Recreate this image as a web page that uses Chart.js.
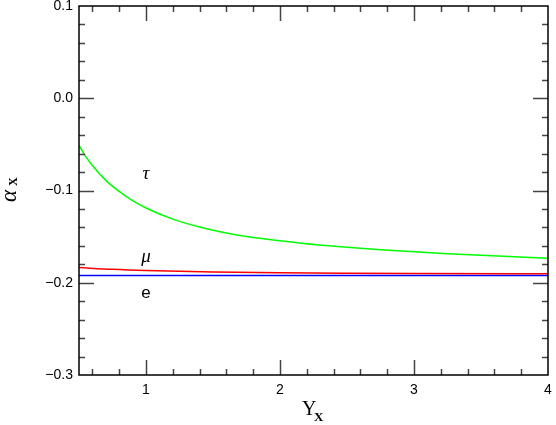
<!DOCTYPE html>
<html>
<head>
<meta charset="utf-8">
<script src="https://cdn.jsdelivr.net/npm/chart.js@4/dist/chart.umd.min.js"></script>
<style>
html,body{margin:0;padding:0;background:#fff}
</style>
</head>
<body>
<canvas id="chart" width="556" height="425"></canvas>
<script>
// values
const tauX = [0.5, 0.55, 0.6, 0.7, 0.8, 0.9, 1.0, 1.2, 1.4, 1.6, 1.8, 2.0, 2.25, 2.5, 2.75, 3.0, 3.25, 3.5, 3.75, 4.0];
const tauY = [-0.051, -0.063, -0.073, -0.089, -0.101, -0.111, -0.119, -0.131, -0.1395, -0.146, -0.151, -0.1545, -0.1585, -0.1615, -0.1642, -0.1665, -0.1685, -0.1703, -0.1719, -0.1734];
const muX = [0.5, 0.75, 1.0, 1.5, 2.0, 2.5, 3.0, 4.0];
const muY = [-0.1835, -0.1855, -0.1868, -0.1883, -0.1892, -0.1897, -0.19, -0.1902];
const eX = [0.5, 4.0];
const eY = [-0.1922, -0.1922];

const xTicks = [1, 2, 3, 4];
const yTicks = [-0.3, -0.2, -0.1, 0.0, 0.1];

const curveNames = ['τ', 'μ', 'e'];
const nameX = [1.0, 1.0, 1.0];
const nameY = [-0.0824, -0.172, -0.211];

function pts(xs, ys){
	return xs.map((x, i) => ({x: x, y: ys[i]}));
}

Chart.defaults.font.family = 'Arial, "Liberation Sans", sans-serif';
Chart.defaults.font.size = 14;
Chart.defaults.color = '#000';

const frame = {
	id: 'frame',
	afterDraw(chart){
		const ctx = chart.ctx;
		const a = chart.chartArea;
		const xs = chart.scales.x, ys = chart.scales.y;
		ctx.save();

		// inward ticks on all four sides
		ctx.strokeStyle = '#444';
		ctx.lineWidth = 1.5;
		ctx.beginPath();
		for (let k = 3; k < 20; k++) {
			const v = k * 0.2;
			const major = k % 5 === 0;
			const len = major ? 15 : 6;
			const px = Math.round(xs.getPixelForValue(v)) + 0.5;
			ctx.moveTo(px, a.bottom); ctx.lineTo(px, a.bottom - len);
			ctx.moveTo(px, a.top); ctx.lineTo(px, a.top + len);
		}
		for (let k = -14; k <= 4; k++) {
			const v = k * 0.02;
			const major = k % 5 === 0;
			const len = major ? 15 : 6;
			const py = Math.round(ys.getPixelForValue(v)) + 0.5;
			ctx.moveTo(a.left, py); ctx.lineTo(a.left + len, py);
			ctx.moveTo(a.right, py); ctx.lineTo(a.right - len, py);
		}
		ctx.stroke();

		// box
		ctx.strokeStyle = '#000';
		ctx.lineWidth = 1.5;
		ctx.strokeRect(a.left, a.top, a.right - a.left, a.bottom - a.top);

		// curve names
		ctx.fillStyle = '#000';
		ctx.textAlign = 'center';
		ctx.textBaseline = 'middle';
		curveNames.forEach((n, i) => {
			ctx.font = n === 'e' ? '17px "Liberation Sans"' : 'italic 19px "Liberation Serif"';
			ctx.fillText(n, xs.getPixelForValue(nameX[i]), ys.getPixelForValue(nameY[i]));
		});

		// x title  Y_X
		ctx.textAlign = 'left';
		ctx.textBaseline = 'alphabetic';
		ctx.font = '20px "Liberation Serif"';
		ctx.fillText('Y', 302, 415);
		ctx.font = 'bold 13px "Liberation Serif"';
		ctx.fillText('X', 314, 421);

		// y title  alpha_X
		ctx.translate(16, 190);
		ctx.rotate(-Math.PI / 2);
		ctx.font = 'italic 23px "Liberation Serif"';
		ctx.fillText('α', -12, 0);
		ctx.font = 'bold 12px "Liberation Serif"';
		ctx.fillText('X', 4, 1);
		ctx.restore();
	}
};

new Chart(document.getElementById('chart'), {
	type: 'scatter',
	data: {
		datasets: [
			{label: 'tau', data: pts(tauX, tauY), borderColor: '#00ff00', cubicInterpolationMode: 'monotone'},
			{label: 'mu', data: pts(muX, muY), borderColor: '#ff0000', cubicInterpolationMode: 'monotone'},
			{label: 'e', data: pts(eX, eY), borderColor: '#0000ff'}
		].map(d => Object.assign(d, {showLine: true, pointRadius: 0, borderWidth: 1.5, fill: false}))
	},
	options: {
		responsive: false,
		animation: false,
		layout: {padding: {top: 6, right: 8, left: 0, bottom: 0}},
		plugins: {legend: {display: false}, tooltip: {enabled: false}},
		scales: {
			x: {
				type: 'linear', min: 0.5, max: 4,
				afterBuildTicks: s => { s.ticks = xTicks.map(v => ({value: v})); },
				afterFit: s => { s.height = 50; s.paddingLeft = 0; s.paddingRight = 0; },
				grid: {display: false, drawTicks: false},
				border: {display: false},
				ticks: {color: '#000', padding: 7, font: {size: 14}, maxRotation: 0}
			},
			y: {
				min: -0.3, max: 0.1,
				afterBuildTicks: s => { s.ticks = yTicks.map(v => ({value: v})); },
				afterFit: s => { s.width = 79; s.paddingTop = 0; s.paddingBottom = 0; },
				grid: {display: false, drawTicks: false},
				border: {display: false},
				ticks: {
					color: '#000', padding: 6, font: {size: 14},
					callback: v => (Math.abs(v) < 1e-9 ? 0 : v).toFixed(1).replace('-', '\u2212')
				}
			}
		}
	},
	plugins: [frame]
});
</script>
</body>
</html>
